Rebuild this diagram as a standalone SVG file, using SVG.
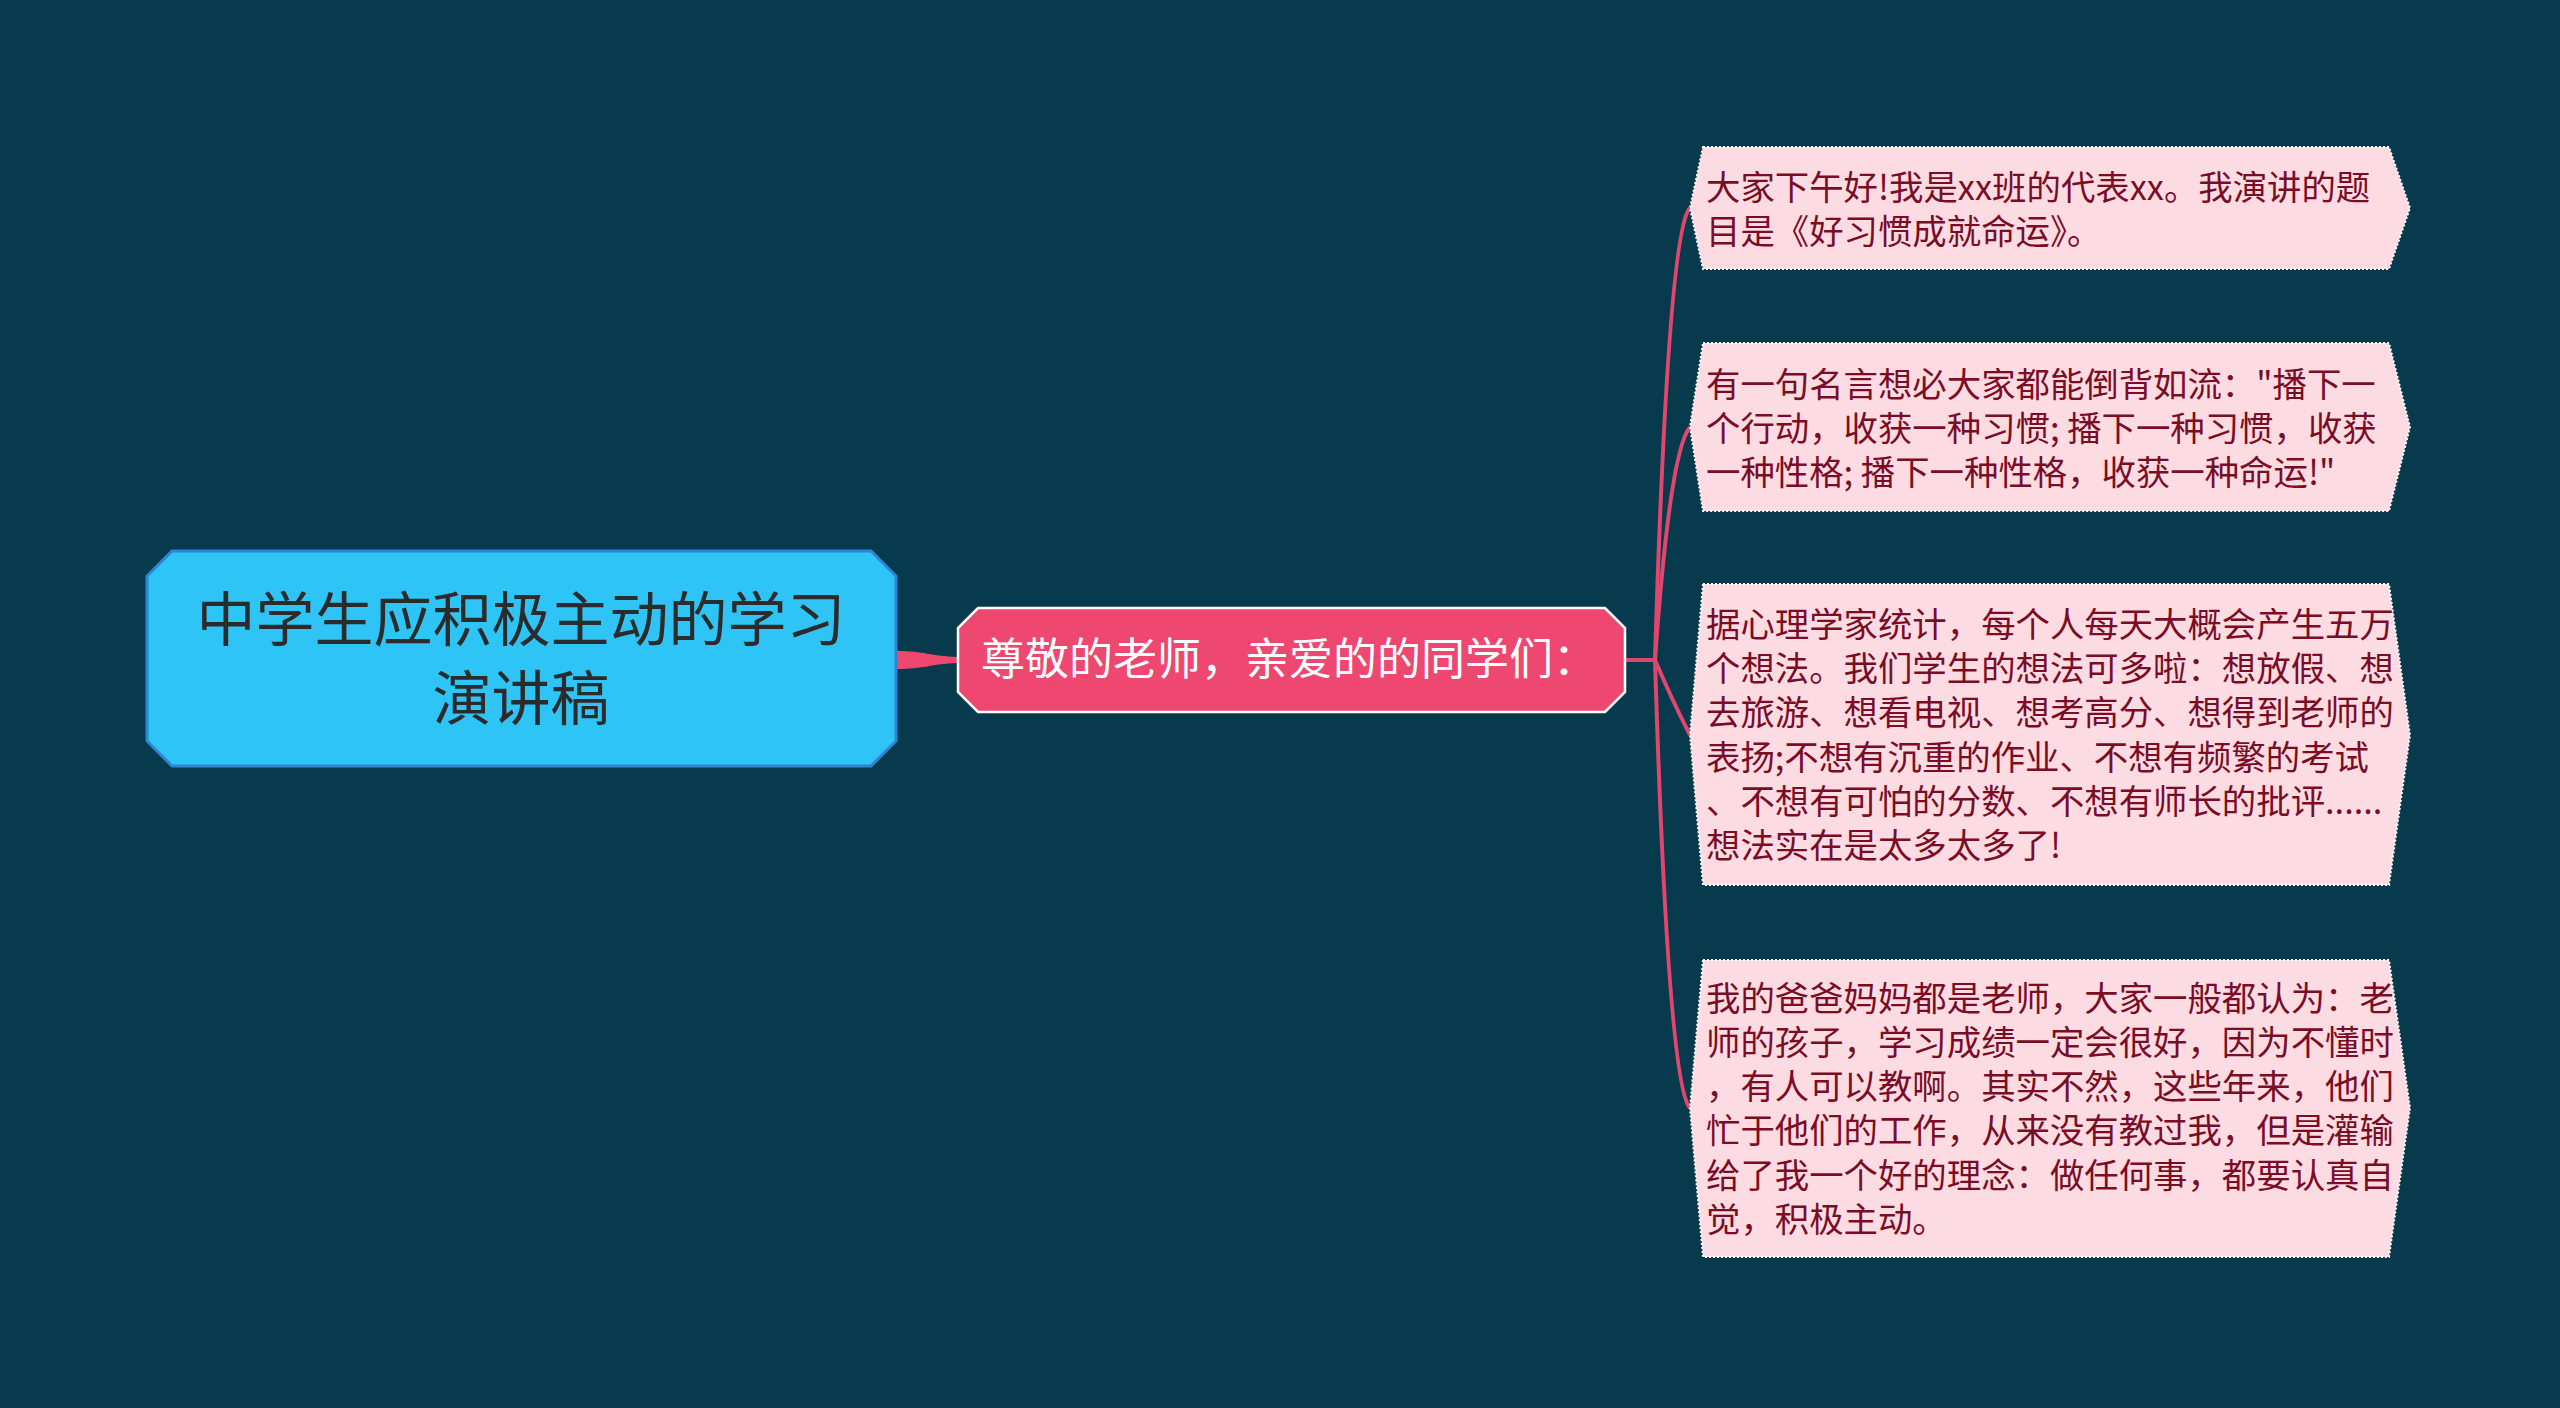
<svg xmlns="http://www.w3.org/2000/svg" width="2560" height="1408" viewBox="0 0 2560 1408">
<style>
.bg{fill:#073a4c}
.root{fill:#2fc4f6;stroke:#2f84d8;stroke-width:3}
.rootT{font-family:"Noto Sans CJK SC","Noto Sans",sans-serif;font-size:59px;fill:#2b2b2b;text-anchor:middle}
.mid{fill:#ee4870;stroke:#ffffff;stroke-width:2.5}
.midT{font-family:"Noto Sans CJK SC","Noto Sans",sans-serif;font-size:44px;fill:#ffffff}
.leaf{fill:#fcdbe2;stroke:#ffffff;stroke-width:2;stroke-dasharray:2 2}
.leafT{font-family:"Noto Sans CJK SC","Noto Sans",sans-serif;font-size:34.4px;fill:#7b0c25}
.conn{fill:none;stroke:#e0466e;stroke-width:4}
</style>
<rect class="bg" x="0" y="0" width="2560" height="1408"/>
<g id="connectors">
<path d="M896 651 C925 651 930 656 958 657 L958 663 C930 664 925 669 896 669 Z" fill="#ee4870"/>
<path class="conn" d="M1625 660 L1655 660"/>
<path class="conn" d="M1655 660 Q1668 230 1690 208"/>
<path class="conn" d="M1655 660 Q1670 450 1690 427"/>
<path class="conn" d="M1655 660 Q1672 700 1690 735"/>
<path class="conn" d="M1655 660 Q1668 1085 1690 1108"/>
</g>
<g id="root">
<path class="root" d="M172 551 L871 551 L896 576 L896 741 L871 766 L172 766 L147 741 L147 576 Z"/>
<text class="rootT" x="521" y="641">中学生应积极主动的学习</text>
<text class="rootT" x="521" y="720">演讲稿</text>
</g>
<g id="center">
<path class="mid" d="M978 608 L1605 608 L1625 628 L1625 692 L1605 712 L978 712 L958 692 L958 628 Z"/>
<text class="midT" x="981" y="675">尊敬的老师，亲爱的的同学们：</text>
</g>
<g id="leaf1">
<path class="leaf" d="M1703 147 L2389 147 L2410 208 L2389 269 L1703 269 L1690 208 Z"/>
<text class="leafT" x="1706" y="200">大家下午好!我是xx班的代表xx。我演讲的题</text>
<text class="leafT" x="1706" y="244">目是《好习惯成就命运》。</text>
</g>
<g id="leaf2">
<path class="leaf" d="M1703 343 L2389 343 L2410 427 L2389 511 L1703 511 L1690 427 Z"/>
<text class="leafT" x="1706" y="397">有一句名言想必大家都能倒背如流："播下一</text>
<text class="leafT" x="1706" y="441">个行动，收获一种习惯; 播下一种习惯，收获</text>
<text class="leafT" x="1706" y="485">一种性格; 播下一种性格，收获一种命运!"</text>
</g>
<g id="leaf3">
<path class="leaf" d="M1703 584 L2389 584 L2410 735 L2389 885 L1703 885 L1690 735 Z"/>
<text class="leafT" x="1706" y="637">据心理学家统计，每个人每天大概会产生五万</text>
<text class="leafT" x="1706" y="681">个想法。我们学生的想法可多啦：想放假、想</text>
<text class="leafT" x="1706" y="725">去旅游、想看电视、想考高分、想得到老师的</text>
<text class="leafT" x="1706" y="770">表扬;不想有沉重的作业、不想有频繁的考试</text>
<text class="leafT" x="1706" y="814">、不想有可怕的分数、不想有师长的批评......</text>
<text class="leafT" x="1706" y="858">想法实在是太多太多了!</text>
</g>
<g id="leaf4">
<path class="leaf" d="M1703 960 L2389 960 L2410 1108 L2389 1257 L1703 1257 L1690 1108 Z"/>
<text class="leafT" x="1706" y="1011">我的爸爸妈妈都是老师，大家一般都认为：老</text>
<text class="leafT" x="1706" y="1055">师的孩子，学习成绩一定会很好，因为不懂时</text>
<text class="leafT" x="1706" y="1099">，有人可以教啊。其实不然，这些年来，他们</text>
<text class="leafT" x="1706" y="1143">忙于他们的工作，从来没有教过我，但是灌输</text>
<text class="leafT" x="1706" y="1188">给了我一个好的理念：做任何事，都要认真自</text>
<text class="leafT" x="1706" y="1232">觉，积极主动。</text>
</g>
</svg>
